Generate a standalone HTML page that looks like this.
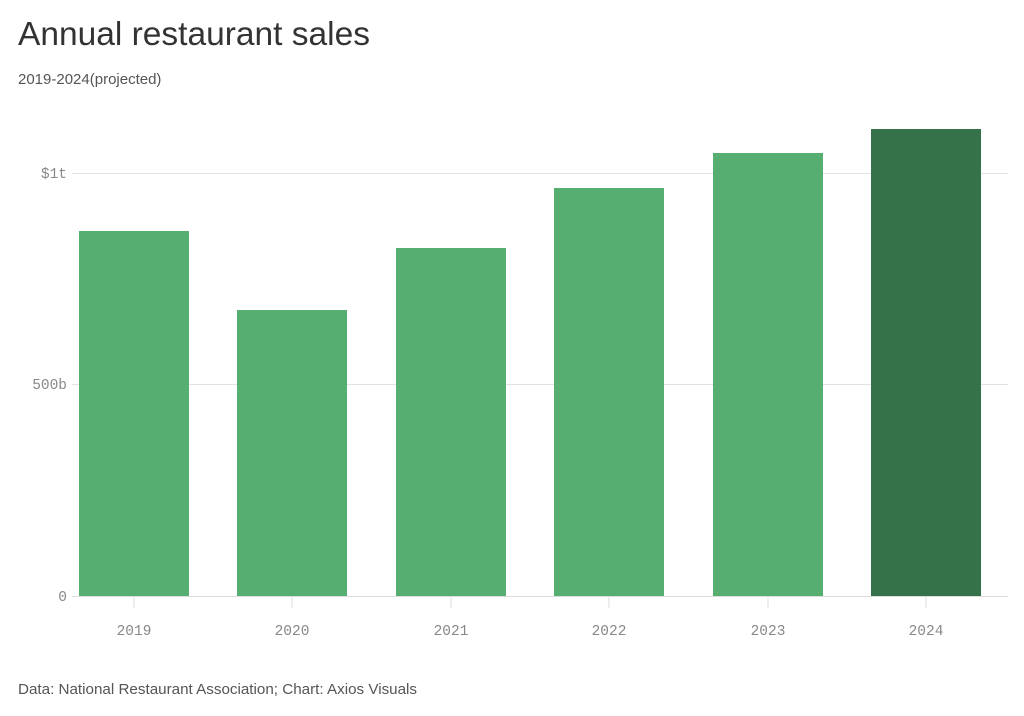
<!DOCTYPE html>
<html><head><style>
html,body{margin:0;padding:0;background:#fff;width:1024px;height:716px;overflow:hidden}
</style></head><body>
<svg width="1024" height="716" xmlns="http://www.w3.org/2000/svg">
<text x="18" y="45" font-family="Liberation Sans, sans-serif" font-size="33.5" fill="#333">Annual restaurant sales</text>
<text x="18" y="84" font-family="Liberation Sans, sans-serif" font-size="15" fill="#555">2019-2024(projected)</text>
<g stroke="#e2e2e2" stroke-width="1">
<line x1="72" y1="173.5" x2="1008" y2="173.5"/>
<line x1="72" y1="384.5" x2="1008" y2="384.5"/>
</g>
<g font-family="Liberation Mono, monospace" font-size="14.5" fill="#888" text-anchor="end">
<text x="67" y="178">$1t</text>
<text x="67" y="389">500b</text>
<text x="67" y="601">0</text>
</g>
<g fill="#56ae71">
<rect x="79" y="231" width="110" height="365"/>
<rect x="237" y="310" width="110" height="286"/>
<rect x="396" y="248" width="110" height="348"/>
<rect x="554" y="188" width="110" height="408"/>
<rect x="713" y="153" width="110" height="443"/>
</g>
<rect x="871" y="129" width="110" height="467" fill="#357149"/>
<line x1="72" y1="596.5" x2="1008" y2="596.5" stroke="#ddd"/>
<g stroke="#ddd">
<line x1="134" y1="597" x2="134" y2="608"/>
<line x1="292" y1="597" x2="292" y2="608"/>
<line x1="451" y1="597" x2="451" y2="608"/>
<line x1="609" y1="597" x2="609" y2="608"/>
<line x1="768" y1="597" x2="768" y2="608"/>
<line x1="926" y1="597" x2="926" y2="608"/>
</g>
<g font-family="Liberation Mono, monospace" font-size="14.5" fill="#888" text-anchor="middle">
<text x="134" y="635">2019</text>
<text x="292" y="635">2020</text>
<text x="451" y="635">2021</text>
<text x="609" y="635">2022</text>
<text x="768" y="635">2023</text>
<text x="926" y="635">2024</text>
</g>
<text x="18" y="694" font-family="Liberation Sans, sans-serif" font-size="15.2" fill="#555">Data: National Restaurant Association; Chart: Axios Visuals</text>
</svg>
</body></html>
